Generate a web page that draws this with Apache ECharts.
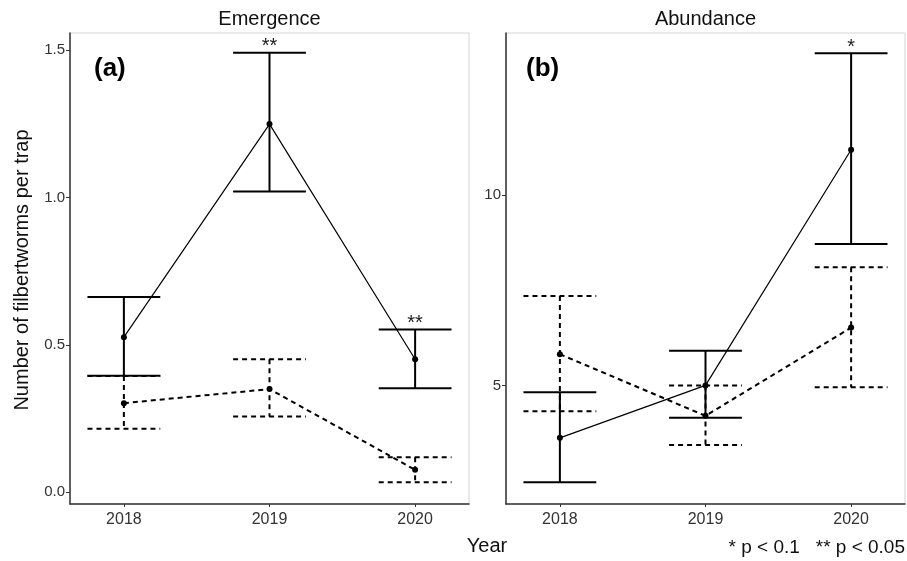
<!DOCTYPE html>
<html>
<head>
<meta charset="utf-8">
<script src="https://cdn.jsdelivr.net/npm/echarts@6/dist/echarts.min.js"></script>
<style>html,body{margin:0;padding:0;background:#fff}#c{width:907px;height:561px}</style>
</head>
<body>
<div id="c"></div>
<script>
// ---- data ----
const years = [2018, 2019, 2020];
const emergSolidMean = [0.526, 1.249, 0.451];
const emergSolidLow  = [0.395, 1.020, 0.353];
const emergSolidHigh = [0.662, 1.491, 0.552];
const emergDashMean  = [0.302, 0.350, 0.076];
const emergDashLow   = [0.215, 0.257, 0.034];
const emergDashHigh  = [0.394, 0.451, 0.119];
const abundSolidMean = [3.62, 5.00, 11.20];
const abundSolidLow  = [2.45, 4.15, 8.72];
const abundSolidHigh = [4.82, 5.91, 13.74];
const abundDashMean  = [5.82, 4.20, 6.52];
const abundDashLow   = [4.32, 3.43, 4.95];
const abundDashHigh  = [7.35, 5.00, 8.11];
const emergSig = ['', '**', '**'];
const abundSig = ['', '', '*'];
const noSig = ['', '', ''];
const emergTicks = [0, 0.5, 1.0, 1.5];
const abundTicks = [5, 10];
const panelTitles = ['Emergence', 'Abundance'];
const panelTags = ['(a)', '(b)'];

// ---- build ----
const FONT = '"Liberation Sans", Arial, sans-serif';
const CAP = 0.25;
const DASH = [5, 4];

function pts(xs, ys) { return xs.map((x, i) => [x, ys[i]]); }
function bars(xs, lo, hi) { return xs.map((x, i) => [x, lo[i], hi[i]]); }

function errRender(dashed, width, sigs) {
  return function (params, api) {
    const x = api.value(0), lo = api.value(1), hi = api.value(2);
    const sig = sigs[params.dataIndex];
    const t = api.coord([x, hi]), b = api.coord([x, lo]);
    const l = api.coord([x - CAP, hi])[0], r = api.coord([x + CAP, hi])[0];
    const st = { stroke: '#000', lineWidth: width, lineDash: dashed ? DASH : null, fill: null };
    const ch = [
      { type: 'line', shape: { x1: t[0], y1: t[1], x2: b[0], y2: b[1] }, style: st },
      { type: 'line', shape: { x1: l, y1: t[1], x2: r, y2: t[1] }, style: st },
      { type: 'line', shape: { x1: l, y1: b[1], x2: r, y2: b[1] }, style: st }
    ];
    if (sig) {
      ch.push({ type: 'text', x: t[0], y: t[1] - 6, style: { text: sig, font: '20px ' + FONT, fill: '#222', align: 'center', verticalAlign: 'middle' } });
    }
    return { type: 'group', children: ch };
  };
}

function xAxisCfg(gi) {
  return {
    type: 'value', gridIndex: gi, min: 2017.63, max: 2020.37,
    axisLine: { show: true, onZero: false, lineStyle: { color: '#333', width: 1.5 } },
    axisTick: { show: true, length: 3, customValues: years, lineStyle: { color: '#333' } },
    axisLabel: { customValues: years, color: '#333', fontSize: 16, fontFamily: FONT, margin: 8, formatter: v => String(v) },
    splitLine: { show: false }
  };
}
function yAxisCfg(gi, min, max, ticks, dec) {
  return {
    type: 'value', gridIndex: gi, min: min, max: max,
    axisLine: { show: true, onZero: false, lineStyle: { color: '#333', width: 1.5 } },
    axisTick: { show: true, length: 4, customValues: ticks, lineStyle: { color: '#333' } },
    axisLabel: { customValues: ticks, color: '#333', fontSize: 15, fontFamily: FONT, margin: 5, formatter: v => v.toFixed(dec) },
    splitLine: { show: false }
  };
}

function lineSeries(gi, data, dashed) {
  return {
    type: 'line', xAxisIndex: gi, yAxisIndex: gi, data: data,
    symbol: 'circle', symbolSize: 6, itemStyle: { color: '#000' },
    lineStyle: { color: '#000', width: dashed ? 2 : 1.2, type: dashed ? DASH : 'solid' },
    z: 3, silent: true
  };
}
function errSeries(gi, data, dashed, sigs) {
  return {
    type: 'custom', xAxisIndex: gi, yAxisIndex: gi, data: data,
    renderItem: errRender(dashed, 2, sigs), z: 2, silent: true
  };
}

const option = {
  animation: false,
  backgroundColor: '#fff',
  grid: [
    { left: 70, top: 33, width: 399, height: 471, show: true, borderColor: '#d4d4d4', borderWidth: 1 },
    { left: 506, top: 33, width: 399, height: 471, show: true, borderColor: '#d4d4d4', borderWidth: 1 }
  ],
  xAxis: [xAxisCfg(0), xAxisCfg(1)],
  yAxis: [yAxisCfg(0, -0.04, 1.558, emergTicks, 1), yAxisCfg(1, 1.88, 14.27, abundTicks, 0)],
  series: [
    errSeries(0, bars(years, emergSolidLow, emergSolidHigh), false, emergSig),
    errSeries(0, bars(years, emergDashLow, emergDashHigh), true, noSig),
    lineSeries(0, pts(years, emergSolidMean), false),
    lineSeries(0, pts(years, emergDashMean), true),
    errSeries(1, bars(years, abundSolidLow, abundSolidHigh), false, abundSig),
    errSeries(1, bars(years, abundDashLow, abundDashHigh), true, noSig),
    lineSeries(1, pts(years, abundSolidMean), false),
    lineSeries(1, pts(years, abundDashMean), true)
  ],
  graphic: [
    { type: 'text', x: 269.5, y: 19, style: { text: panelTitles[0], font: '20px ' + FONT, fill: '#111', align: 'center', verticalAlign: 'middle' } },
    { type: 'text', x: 705.5, y: 19, style: { text: panelTitles[1], font: '20px ' + FONT, fill: '#111', align: 'center', verticalAlign: 'middle' } },
    { type: 'text', x: 94, y: 69, style: { text: panelTags[0], font: 'bold 26px ' + FONT, fill: '#000', align: 'left', verticalAlign: 'middle' } },
    { type: 'text', x: 526, y: 69, style: { text: panelTags[1], font: 'bold 26px ' + FONT, fill: '#000', align: 'left', verticalAlign: 'middle' } },
    { type: 'text', x: 22, y: 270, rotation: Math.PI / 2, style: { text: 'Number of filbertworms per trap', font: '20px ' + FONT, fill: '#111', align: 'center', verticalAlign: 'middle' } },
    { type: 'text', x: 487, y: 546, style: { text: 'Year', font: '20px ' + FONT, fill: '#111', align: 'center', verticalAlign: 'middle' } },
    { type: 'text', x: 905, y: 548, style: { text: '* p < 0.1   ** p < 0.05', font: '19px ' + FONT, fill: '#111', align: 'right', verticalAlign: 'middle' } }
  ]
};
echarts.init(document.getElementById('c'), null, { renderer: 'canvas' }).setOption(option);
</script>
</body>
</html>
